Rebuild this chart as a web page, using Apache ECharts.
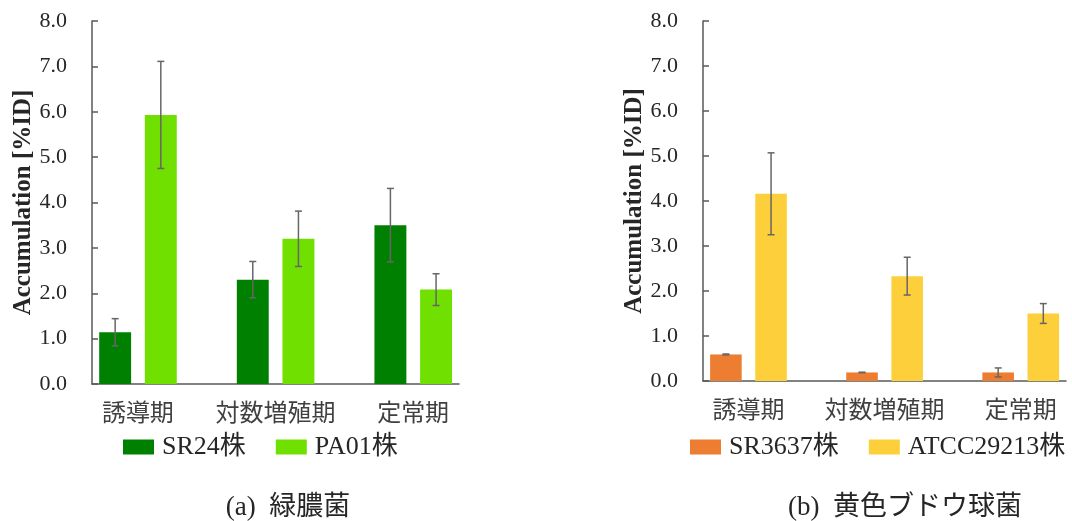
<!DOCTYPE html>
<html>
<head>
<meta charset="utf-8">
<script src="https://cdn.jsdelivr.net/npm/echarts@6/dist/echarts.min.js"></script>
<style>
  html, body { margin: 0; padding: 0; background: #fff; }
  #chart { width: 1072px; height: 521px; }
</style>
</head>
<body>
<div id="chart"></div>
<script>
// Growth phases shared by both panels
const categories = ['誘導期', '対数増殖期', '定常期'];

// (a) Pseudomonas aeruginosa strains: mean and error
const sr24 = [1.14, 2.30, 3.50];
const sr24Err = [0.30, 0.40, 0.81];
const pa01 = [5.93, 3.20, 2.08];
const pa01Err = [1.18, 0.61, 0.35];

// (b) Staphylococcus aureus strains: mean and error
const sr3637 = [0.59, 0.19, 0.19];
const sr3637Err = [0.01, 0.005, 0.10];
const atcc = [4.16, 2.33, 1.50];
const atccErr = [0.91, 0.42, 0.22];

const yMin = 0, yMax = 8, yStep = 1;

const panelNames = ['(a)  緑膿菌', '(b)  黄色ブドウ球菌'];
const seriesNames = [['SR24株', 'PA01株'], ['SR3637株', 'ATCC29213株']];
const colors = [['#008000', '#70E000'], ['#ED7D31', '#FDD03B']];

const FONT = "'Liberation Serif', 'Times New Roman', 'Noto Sans CJK JP', serif";
const AXIS = '#595959';
const BAR_W = 0.232, BAR_GAP = 0.43;

// Each category holds three equal slots: two strains and one empty slot.
const panels = [
  { left: 92, top: 21, width: 367, height: 363, legendLeft: 123 },
  { left: 703, top: 21, width: 363, height: 360, legendLeft: 690 }
];

const chart = echarts.init(document.getElementById('chart'));

const grid = [], xAxis = [], yAxis = [], series = [], legend = [], title = [];

function errorBars(values, errs, slotIndex, xAxisIndex, yAxisIndex) {
  return {
    type: 'custom',
    xAxisIndex, yAxisIndex,
    z: 5,
    silent: true,
    data: values.map((v, i) => [i, v, errs[i]]),
    renderItem: function (params, api) {
      const idx = api.value(0), v = api.value(1), e = api.value(2);
      const catW = api.size([1, 0])[0];
      const dx = (slotIndex - 1) * catW * BAR_W * (1 + BAR_GAP);
      const x = api.coord([idx, v])[0] + dx;
      const yTop = api.coord([idx, v + e])[1];
      const yBot = api.coord([idx, v - e])[1];
      const cap = 3.5;
      const style = { stroke: '#666', lineWidth: 1.5 };
      return {
        type: 'group',
        children: [
          { type: 'line', shape: { x1: x, y1: yTop, x2: x, y2: yBot }, style },
          { type: 'line', shape: { x1: x - cap, y1: yTop, x2: x + cap, y2: yTop }, style },
          { type: 'line', shape: { x1: x - cap, y1: yBot, x2: x + cap, y2: yBot }, style }
        ]
      };
    }
  };
}

const panelData = [
  [[sr24, sr24Err], [pa01, pa01Err]],
  [[sr3637, sr3637Err], [atcc, atccErr]]
];

panels.forEach((p, k) => {
  const gFrame = k * 2, gBars = k * 2 + 1;
  const slot = p.width / 8;
  grid.push({ left: p.left, top: p.top, width: p.width, height: p.height, outerBoundsMode: 'none' });
  grid.push({ left: p.left, top: p.top, width: slot * 9, height: p.height, outerBoundsMode: 'none' });

  // frame axes: value y axis with ticks, plain bottom line
  xAxis.push({
    gridIndex: gFrame, type: 'value', min: 0, max: 1,
    axisLine: { show: true, lineStyle: { color: AXIS, width: 1.5 } },
    axisTick: { show: false }, axisLabel: { show: false }, splitLine: { show: false }
  });
  yAxis.push({
    gridIndex: gFrame, type: 'value', min: yMin, max: yMax, interval: yStep,
    name: 'Accumulation [%ID]',
    nameLocation: 'middle', nameRotate: 90, nameGap: 56,
    nameTextStyle: { fontFamily: FONT, fontSize: 25, fontWeight: 'bold', color: '#262626' },
    axisLine: { show: true, lineStyle: { color: AXIS, width: 1.5 } },
    axisTick: { show: true, inside: true, length: 6, lineStyle: { color: AXIS, width: 1.5 } },
    axisLabel: {
      margin: 25, fontFamily: FONT, fontSize: 22, color: '#262626',
      formatter: v => v.toFixed(1)
    },
    splitLine: { show: false }
  });

  // bar axes
  xAxis.push({
    gridIndex: gBars, type: 'category', data: categories,
    axisLine: { show: false }, axisTick: { show: false },
    axisLabel: {
      margin: 19, fontFamily: FONT, fontSize: 24, color: '#404040',
      padding: [0, slot, 0, 0], interval: 0
    }
  });
  yAxis.push({
    gridIndex: gBars, type: 'value', min: yMin, max: yMax, interval: yStep,
    show: false
  });

  panelData[k].forEach((d, s) => {
    series.push({
      name: seriesNames[k][s], type: 'bar',
      xAxisIndex: gBars, yAxisIndex: gBars,
      data: d[0],
      barWidth: (BAR_W * 100) + '%', barGap: (BAR_GAP * 100) + '%',
      itemStyle: { color: colors[k][s] },
      emphasis: { disabled: true }
    });
  });
  series.push({
    name: 'slot' + k, type: 'bar',
    xAxisIndex: gBars, yAxisIndex: gBars,
    data: categories.map(() => '-'),
    barWidth: (BAR_W * 100) + '%', barGap: (BAR_GAP * 100) + '%'
  });
  panelData[k].forEach((d, s) => {
    series.push(errorBars(d[0], d[1], s, gBars, gBars));
  });

  legend.push({
    data: seriesNames[k],
    left: p.legendLeft, top: 434, padding: 0,
    icon: 'rect', itemWidth: 31, itemHeight: 15, itemGap: 30,
    selectedMode: false,
    textStyle: { fontFamily: FONT, fontSize: 26, color: '#262626', padding: [0, 0, 0, 3] }
  });

  title.push({
    text: panelNames[k],
    left: k === 0 ? 283 : 900, top: 489, textAlign: 'center',
    textStyle: { fontFamily: FONT, fontSize: 27, fontWeight: 'normal', color: '#262626' }
  });
});

chart.setOption({
  animation: false,
  backgroundColor: '#fff',
  title, grid, xAxis, yAxis, legend, series
});
</script>
</body>
</html>
